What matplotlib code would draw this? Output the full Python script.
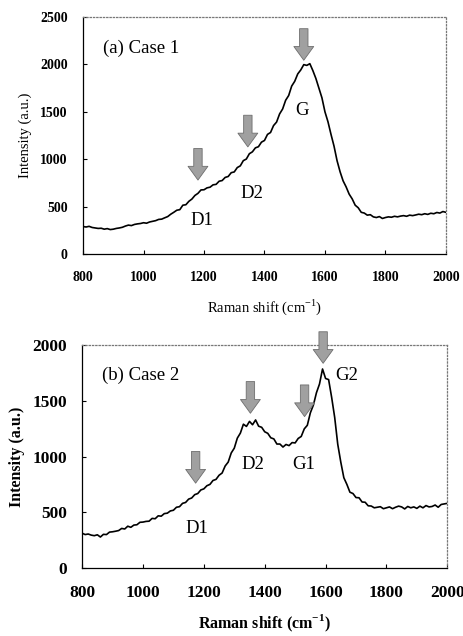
import numpy as np
import matplotlib
matplotlib.use("Agg")
import matplotlib.pyplot as plt

plt.rcParams['font.family'] = ['Liberation Serif', 'DejaVu Serif']

# Raman shift grid (cm-1), 10 cm-1 step
shift = np.arange(800, 2001, 10)

# (a) Case 1 intensity
case1 = [
    290, 285, 292, 280, 275, 270, 272, 262, 268, 258,
    262, 270, 275, 282, 295, 305, 300, 312, 318, 322,
    330, 325, 338, 345, 352, 365, 368, 382, 395, 420,
    440, 462, 468, 515, 520, 556, 580, 618, 640, 676,
    678, 698, 705, 730, 735, 768, 775, 808, 818, 858,
    866, 912, 930, 985, 1002, 1058, 1078, 1120, 1132, 1180,
    1198, 1262, 1282, 1355, 1392, 1478, 1530, 1622, 1672, 1772,
    1822, 1900, 1942, 1998, 1990, 2008, 1935, 1852, 1750, 1648,
    1500, 1395, 1262, 1138, 985, 868, 772, 708, 632, 582,
    515, 488, 440, 432, 410, 415, 392, 385, 395, 375,
    385, 392, 388, 398, 392, 400, 405, 398, 410, 405,
    412, 420, 415, 425, 418, 430, 425, 438, 432, 448,
    440,
]

# (b) Case 2 intensity
case2 = [
    312, 300, 305, 295, 290, 298, 278, 302, 300, 322,
    325, 330, 336, 355, 350, 375, 365, 385, 388, 410,
    412, 418, 420, 445, 442, 468, 465, 488, 492, 512,
    518, 545, 550, 580, 588, 618, 628, 658, 668, 700,
    710, 738, 750, 785, 795, 832, 852, 915, 950, 1032,
    1075, 1165, 1210, 1290, 1270, 1315, 1285, 1328, 1272, 1262,
    1222, 1208, 1168, 1158, 1112, 1112, 1085, 1108, 1098, 1125,
    1122, 1162, 1180, 1248, 1280, 1392, 1462, 1572, 1650, 1785,
    1700, 1690, 1530, 1350, 1110, 950, 810, 750, 680, 668,
    632, 630, 592, 590, 558, 556, 540, 545, 550, 532,
    540, 548, 532, 545, 555, 548, 530, 552, 540, 548,
    535, 555, 540, 560, 548, 552, 565, 545, 570, 575,
    580,
]

# peak labels: (text, x, y)
labels1 = [("D1", 1193, 358), ("D2", 1360, 640), ("G", 1523, 1517)]
labels2 = [("D1", 1176, 358), ("D2", 1361, 925), ("G1", 1529, 925), ("G2", 1671, 1731)]
# arrows: (x, y_top, y_tip)
arrows1 = [(1180, 1113, 780), (1345, 1464, 1130), (1530, 2377, 2044)]
arrows2 = [(1173, 1045, 761), (1353, 1672, 1388), (1531, 1642, 1358), (1592, 2119, 1836)]


def draw_arrow(ax, x, ytop, ytip):
    ax.annotate("", xy=(x, ytip), xytext=(x, ytop), annotation_clip=False,
                arrowprops=dict(arrowstyle="simple,head_length=0.9,head_width=1.3,tail_width=0.55",
                                fc="#a0a0a0", ec="#6e6e6e", lw=0.6, shrinkA=0, shrinkB=0,
                                mutation_scale=11))


def style_axes(ax, ymax, fs_tick, fs_label, bold_label):
    ax.set_xlim(800, 2000)
    ax.set_ylim(0, ymax)
    ax.set_xticks(np.arange(800, 2001, 200))
    ax.set_yticks(np.arange(0, ymax + 1, 500))
    ax.tick_params(direction="in", length=3, width=0.8, labelsize=fs_tick)
    ax.tick_params(axis="x", pad=12)
    ax.tick_params(axis="y", pad=11)
    for t in ax.get_xticklabels() + ax.get_yticklabels():
        t.set_fontweight("bold")
    for s in ["top", "right"]:
        ax.spines[s].set_linestyle(":")
        ax.spines[s].set_color("#777777")
        ax.spines[s].set_linewidth(0.9)
    for s in ["left", "bottom"]:
        ax.spines[s].set_linewidth(0.9)
    w = "bold" if bold_label else "normal"
    ax.set_ylabel("Intensity (a.u.)", fontsize=fs_label, fontweight=w)
    ax.set_xlabel("Raman shift (cm$^{\\mathregular{-1}}$)", fontsize=fs_label, fontweight=w)


fig = plt.figure(figsize=(4.64, 6.36), dpi=100)
ax1 = fig.add_axes([0.179, 0.6006, 0.782, 0.3726])
ax2 = fig.add_axes([0.177, 0.1069, 0.787, 0.3506])

ax1.plot(shift, case1, color="black", lw=1.2)
style_axes(ax1, 2500, 10, 10.5, False)
ax1.xaxis.labelpad = 10
ax1.yaxis.labelpad = 6
ax1.text(866, 2173, "(a) Case 1", fontsize=13.5, va="center", ha="left")
for t, x, y in labels1:
    ax1.text(x, y, t, fontsize=13.5, ha="center", va="center")
for x, a, b in arrows1:
    draw_arrow(ax1, x, a, b)

ax2.plot(shift, case2, color="black", lw=1.2)
style_axes(ax2, 2000, 12.5, 11.5, True)
ax2.xaxis.labelpad = 9
ax2.yaxis.labelpad = 5
ax2.text(866, 1731, "(b) Case 2", fontsize=13.5, va="center", ha="left")
for t, x, y in labels2:
    ax2.text(x, y, t, fontsize=13.5, ha="center", va="center")
for x, a, b in arrows2:
    draw_arrow(ax2, x, a, b)

fig.savefig("out.png", dpi=100)
